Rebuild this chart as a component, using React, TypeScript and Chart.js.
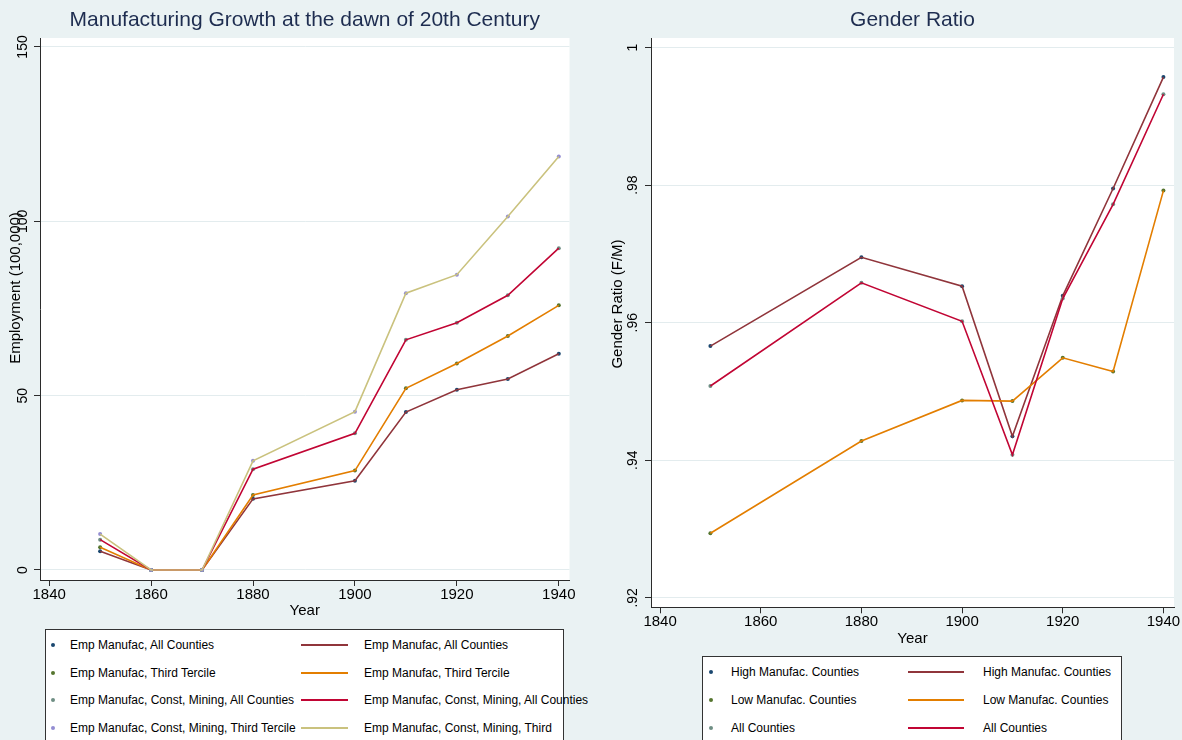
import React, { useEffect, useRef } from 'react';
import { Chart, registerables } from 'chart.js';

Chart.register(...registerables);

const FONT = '"Liberation Sans", Arial, Helvetica, sans-serif';
const BG = '#eaf2f3';
const GRID = '#e3ecee';
const AXIS = '#2b2b2b';
const TITLE_COLOR = '#1e2d50';

// ---------- Left panel data: employment (100,000) ----------
const empYears = [1850, 1860, 1870, 1880, 1900, 1910, 1920, 1930, 1940];
const empManufAll = [5.4, 0, 0, 20.4, 25.6, 45.3, 51.7, 54.8, 62.0];
const empManufThird = [6.5, 0, 0, 21.5, 28.5, 52.1, 59.2, 67.1, 75.9];
const empConstAll = [8.7, 0, 0, 28.9, 39.2, 66.0, 70.9, 78.8, 92.3];
const empConstThird = [10.3, 0, 0, 31.3, 45.4, 79.4, 84.7, 101.4, 118.6];
const empMarkerLabels = [
  'Emp Manufac, All Counties',
  'Emp Manufac, Third Tercile',
  'Emp Manufac, Const, Mining, All Counties',
  'Emp Manufac, Const, Mining, Third Tercile',
];
const empLineLabels = [
  'Emp Manufac, All Counties',
  'Emp Manufac, Third Tercile',
  'Emp Manufac, Const, Mining, All Counties',
  'Emp Manufac, Const, Mining, Third',
];
const empYTicks = [0, 50, 100, 150];
const empYTickLabels = ['0', '50', '100', '150'];

// ---------- Right panel data: gender ratio ----------
const ratioYears = [1850, 1880, 1900, 1910, 1920, 1930, 1940];
const ratioHigh = [0.9566, 0.9695, 0.9653, 0.9435, 0.9639, 0.9795, 0.9957];
const ratioLow = [0.9294, 0.9428, 0.9487, 0.9486, 0.9549, 0.9529, 0.9792];
const ratioAll = [0.9508, 0.9658, 0.9602, 0.9408, 0.9635, 0.9772, 0.9932];
const ratioLabels = ['High Manufac. Counties', 'Low Manufac. Counties', 'All Counties'];
const ratioYTicks = [0.92, 0.94, 0.96, 0.98, 1];
const ratioYTickLabels = ['.92', '.94', '.96', '.98', '1'];

// shared
const yearTicks = [1840, 1860, 1880, 1900, 1920, 1940];
const yearTickLabels = ['1840', '1860', '1880', '1900', '1920', '1940'];
const markerColors = ['#1a476f', '#55752f', '#6e8e84', '#938dd2'];
const lineColors = ['#90353b', '#e37e00', '#c10534', '#cac27e'];

type ChartProps = {
  left: number;
  top: number;
  width: number;
  height: number;
  years: number[];
  series: number[][];
  markerLabels: string[];
  lineLabels: string[];
  title: string;
  yTicks: number[];
  yTickLabels: string[];
  yMin: number;
  yMax: number;
  yAxisWidth: number;
  xAxisHeight: number;
  padRight: number;
  yTickPad: number;
  xTitlePad: number;
};

const plotBg = {
  id: 'plotBg',
  beforeDraw(chart: any) {
    const { ctx, chartArea } = chart;
    if (!chartArea) return;
    ctx.save();
    ctx.fillStyle = '#ffffff';
    ctx.fillRect(chartArea.left, chartArea.top, chartArea.right - chartArea.left, chartArea.bottom - chartArea.top);
    ctx.restore();
  },
};

function StataChart(p: ChartProps) {
  const ref = useRef<HTMLCanvasElement>(null);
  useEffect(() => {
    const n = p.series.length;
    const datasets: any[] = [];
    p.series.forEach((s, i) => {
      const data = p.years.map((x, j) => ({ x, y: s[j] }));
      datasets.push({
        label: p.markerLabels[i],
        data,
        showLine: false,
        pointRadius: 2,
        pointHoverRadius: 2,
        pointBackgroundColor: markerColors[i],
        pointBorderColor: markerColors[i],
        pointBorderWidth: 0,
        borderColor: markerColors[i],
        order: 2 * n - 2 * i,
      });
      datasets.push({
        label: p.lineLabels[i],
        data,
        borderColor: lineColors[i],
        backgroundColor: lineColors[i],
        borderWidth: 1.6,
        pointRadius: 0,
        pointHoverRadius: 0,
        fill: false,
        tension: 0,
        order: 2 * n - 2 * i - 1,
      });
    });
    const chart = new Chart(ref.current as HTMLCanvasElement, {
      type: 'line',
      data: { datasets },
      plugins: [plotBg],
      options: {
        animation: false,
        responsive: false,
        maintainAspectRatio: false,
        events: [],
        layout: { padding: { left: 0, right: p.padRight, top: 0, bottom: 0 } },
        plugins: {
          legend: { display: false },
          tooltip: { enabled: false },
          title: {
            display: true,
            text: p.title,
            fullSize: false,
            color: TITLE_COLOR,
            font: { family: FONT, size: 21, weight: 'normal', lineHeight: 1.2 },
            padding: { top: 7.4, bottom: 5.4 },
          },
        },
        scales: {
          x: {
            type: 'linear',
            min: 1838.2,
            max: 1942.1,
            afterBuildTicks: (s: any) => {
              s.ticks = yearTicks.map((v) => ({ value: v }));
            },
            afterFit: (s: any) => {
              s.height = p.xAxisHeight;
            },
            grid: { display: true, drawOnChartArea: false, drawTicks: true, tickLength: 6, tickColor: AXIS, tickWidth: 1 },
            border: { display: true, color: AXIS, width: 1 },
            ticks: {
              color: '#000',
              font: { family: FONT, size: 15 },
              padding: 0,
              maxRotation: 0,
              minRotation: 0,
              autoSkip: false,
              callback: (v: any) => yearTickLabels[yearTicks.indexOf(Number(v))] ?? String(v),
            },
            title: {
              display: true,
              text: 'Year',
              color: '#000',
              font: { family: FONT, size: 15, lineHeight: 1.2 },
              padding: { top: 0, bottom: p.xTitlePad },
            },
          },
          y: {
            type: 'linear',
            min: p.yMin,
            max: p.yMax,
            afterBuildTicks: (s: any) => {
              s.ticks = p.yTicks.map((v) => ({ value: v }));
            },
            afterFit: (s: any) => {
              s.width = p.yAxisWidth;
            },
            grid: { color: GRID, lineWidth: 1, drawTicks: true, tickLength: 6, tickColor: AXIS, tickWidth: 1 },
            border: { display: true, color: AXIS, width: 1 },
            ticks: {
              color: '#000',
              font: { family: FONT, size: 14 },
              padding: p.yTickPad,
              minRotation: 90,
              maxRotation: 90,
              crossAlign: 'center',
              autoSkip: false,
              callback: (v: any) => p.yTickLabels[p.yTicks.indexOf(Number(v))] ?? String(v),
            },
          },
        },
      } as any,
    });
    return () => chart.destroy();
  }, []);
  return (
    <canvas
      ref={ref}
      width={p.width}
      height={p.height}
      style={{ position: 'absolute', left: p.left, top: p.top, width: p.width, height: p.height, display: 'block' }}
    />
  );
}

function YTitle({ text, cx, cy }: { text: string; cx: number; cy: number }) {
  const w = 240;
  const h = 16;
  return (
    <div
      style={{
        position: 'absolute',
        left: cx - w / 2,
        top: cy - h / 2,
        width: w,
        height: h,
        transform: 'rotate(-90deg)',
        fontSize: 15,
        fontWeight: 400,
        lineHeight: h + 'px',
        textAlign: 'center',
        whiteSpace: 'nowrap',
        color: '#000',
        fontFamily: FONT,
      }}
    >
      {text}
    </div>
  );
}

type LegendProps = {
  left: number;
  top: number;
  width: number;
  height: number;
  firstRow: number;
  rowGap: number;
  markerX: number;
  textX: number;
  lineX1: number;
  lineX2: number;
  text2X: number;
  markerLabels: string[];
  lineLabels: string[];
};

function Legend(p: LegendProps) {
  return (
    <div
      style={{
        position: 'absolute',
        left: p.left,
        top: p.top,
        width: p.width,
        height: p.height,
        background: '#fff',
        border: '1px solid #333',
        boxSizing: 'border-box',
        overflow: 'visible',
        fontFamily: FONT,
        fontSize: 12,
        color: '#000',
      }}
    >
      {p.markerLabels.map((lab, i) => {
        const y = p.firstRow + i * p.rowGap;
        return (
          <React.Fragment key={i}>
            <div
              style={{
                position: 'absolute',
                left: p.markerX - 2,
                top: y - 2,
                width: 4,
                height: 4,
                borderRadius: '50%',
                background: markerColors[i],
              }}
            />
            <div
              style={{ position: 'absolute', left: p.textX, top: y, transform: 'translateY(-50%)', lineHeight: '14px', whiteSpace: 'nowrap' }}
            >
              {lab}
            </div>
            <div
              style={{
                position: 'absolute',
                left: p.lineX1,
                top: y - 1,
                width: p.lineX2 - p.lineX1,
                height: 2,
                background: lineColors[i],
              }}
            />
            <div
              style={{ position: 'absolute', left: p.text2X, top: y, transform: 'translateY(-50%)', lineHeight: '14px', whiteSpace: 'nowrap' }}
            >
              {p.lineLabels[i]}
            </div>
          </React.Fragment>
        );
      })}
    </div>
  );
}

export default function App() {
  useEffect(() => {
    document.body.style.margin = '0';
  }, []);
  return (
    <div
      style={{
        position: 'fixed',
        left: 0,
        top: 0,
        width: 1182,
        height: 740,
        overflow: 'hidden',
        background: BG,
        fontFamily: FONT,
      }}
    >
      <StataChart
        left={0}
        top={0}
        width={591}
        height={625}
        years={empYears}
        series={[empManufAll, empManufThird, empConstAll, empConstThird]}
        markerLabels={empMarkerLabels}
        lineLabels={empLineLabels}
        title="Manufacturing Growth at the dawn of 20th Century"
        yTicks={empYTicks}
        yTickLabels={empYTickLabels}
        yMin={-2.87}
        yMax={152.57}
        yAxisWidth={40}
        xAxisHeight={45}
        padRight={21.5}
        yTickPad={-0.7}
        xTitlePad={5}
      />
      <StataChart
        left={591}
        top={0}
        width={591}
        height={652}
        years={ratioYears}
        series={[ratioHigh, ratioLow, ratioAll]}
        markerLabels={ratioLabels}
        lineLabels={ratioLabels}
        title="Gender Ratio"
        yTicks={ratioYTicks}
        yTickLabels={ratioYTickLabels}
        yMin={0.91863}
        yMax={1.00138}
        yAxisWidth={60}
        xAxisHeight={44.7}
        padRight={8}
        yTickPad={2}
        xTitlePad={4.2}
      />
      <YTitle text="Employment (100,000)" cx={15} cy={288} />
      <YTitle text="Gender Ratio (F/M)" cx={617} cy={304} />
      <Legend
        left={45}
        top={629}
        width={519}
        height={130}
        firstRow={15}
        rowGap={27.7}
        markerX={7}
        textX={24}
        lineX1={255}
        lineX2={302}
        text2X={318}
        markerLabels={empMarkerLabels}
        lineLabels={empLineLabels}
      />
      <Legend
        left={702}
        top={656}
        width={420}
        height={110}
        firstRow={14.7}
        rowGap={28}
        markerX={8}
        textX={28}
        lineX1={205}
        lineX2={261}
        text2X={280}
        markerLabels={ratioLabels}
        lineLabels={ratioLabels}
      />
    </div>
  );
}
